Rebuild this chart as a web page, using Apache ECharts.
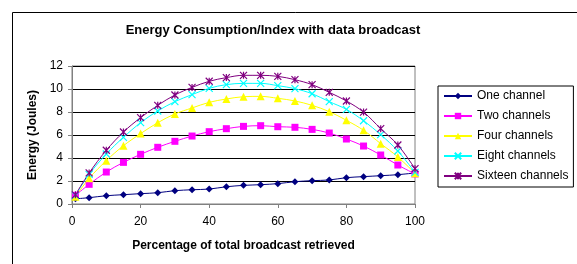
<!DOCTYPE html>
<html>
<head>
    <meta charset="utf-8">
    <title>ECharts</title>
    <script src="https://cdn.jsdelivr.net/npm/echarts@6/dist/echarts.min.js"></script>
    <style>
        body { margin: 0; background: #fff; }
    </style>
</head>
<body>
<div id="main" style="width: 577px;height:264px;"></div>
<script type="text/javascript">
    // percentage of broadcast retrieved
    var xValues = [1, 5, 10, 15, 20, 25, 30, 35, 40, 45, 50, 55, 60, 65, 70, 75, 80, 85, 90, 95, 100];

    var seriesNames = ['One channel', 'Two channels', 'Four channels', 'Eight channels', 'Sixteen channels'];

    var oneChannel     = [0.45, 0.55, 0.72, 0.81, 0.9, 0.98, 1.16, 1.24, 1.3, 1.5, 1.62, 1.68, 1.77, 1.94, 2.03, 2.09, 2.29, 2.38, 2.46, 2.55, 2.7];
    var twoChannels    = [0.75, 1.71, 2.78, 3.62, 4.32, 4.93, 5.45, 5.91, 6.29, 6.55, 6.75, 6.81, 6.72, 6.67, 6.49, 6.17, 5.65, 5.04, 4.26, 3.39, 2.61];
    var fourChannels   = [0.64, 2.23, 3.77, 5.07, 6.12, 7.07, 7.83, 8.35, 8.84, 9.13, 9.33, 9.36, 9.19, 8.96, 8.58, 8.03, 7.28, 6.41, 5.25, 4.09, 2.67];
    var eightChannels  = [0.75, 2.58, 4.35, 5.8, 7.07, 8.09, 8.9, 9.51, 10.06, 10.38, 10.49, 10.49, 10.29, 10.03, 9.59, 8.9, 8.23, 7.24, 6.03, 4.61, 2.75];
    var sixteenChannels = [0.8, 2.7, 4.67, 6.26, 7.51, 8.58, 9.48, 10.14, 10.67, 10.99, 11.19, 11.19, 11.1, 10.81, 10.38, 9.71, 8.96, 7.99, 6.55, 5.13, 3.07];

    var yTicks = [0, 2, 4, 6, 8, 10, 12];
    var xTicks = [0, 20, 40, 60, 80, 100];

    var crossPath = 'path://M0 0L10 10M10 0L0 10';
    var starPath = 'path://M0 0L10 10M10 0L0 10M5 0L5 10';

    function pairs(ys) {
        var out = [];
        for (var i = 0; i < xValues.length; i++) {
            out.push([xValues[i], ys[i]]);
        }
        return out;
    }

    function makeSeries(name, ys, color, symbol, size, stroked) {
        return {
            name: name,
            type: 'line',
            data: pairs(ys),
            smooth: 0.35,
            symbol: symbol,
            symbolSize: size,
            showAllSymbol: true,
            lineStyle: { color: color, width: 1 },
            itemStyle: stroked
                ? { color: 'rgba(0,0,0,0)', borderColor: color, borderWidth: 1.2 }
                : { color: color, borderColor: color, borderWidth: 0 },
            emphasis: { disabled: true }
        };
    }

    var myChart = echarts.init(document.getElementById('main'));

    var option = {
        animation: false,
        backgroundColor: '#fff',
        textStyle: { fontFamily: 'Liberation Sans, Arial, sans-serif' },
        title: {
            text: 'Energy Consumption/Index with data broadcast',
            left: 268,
            textAlign: 'center',
            top: 19,
            textStyle: { fontSize: 13, fontWeight: 'bold', color: '#000' }
        },
        graphic: [{
            type: 'rect',
            position: [0, 0],
            shape: { x: 12.5, y: 12.5, width: 620, height: 300 },
            style: { fill: 'none', stroke: '#000', lineWidth: 1 },
            z: -10
        }],
        legend: {
            orient: 'vertical',
            left: 438,
            top: 86,
            padding: [3, 5, 4, 5],
            itemGap: 6,
            itemWidth: 28,
            itemHeight: 8,
            borderColor: '#000',
            borderWidth: 1,
            backgroundColor: '#fff',
            textStyle: { fontSize: 12, color: '#000', lineHeight: 14, fontFamily: 'Liberation Sans, Arial, sans-serif' },
            data: seriesNames
        },
        grid: {
            left: 72,
            right: 162,
            top: 66,
            bottom: 60,
            show: true,
            borderColor: '#808080',
            borderWidth: 1,
            containLabel: false
        },
        xAxis: {
            type: 'value',
            min: xTicks[0],
            max: xTicks[xTicks.length - 1],
            interval: 20,
            name: 'Percentage of total broadcast retrieved',
            nameLocation: 'middle',
            nameGap: 36,
            nameTextStyle: { fontSize: 12, fontWeight: 'bold', color: '#000' },
            axisLine: { lineStyle: { color: '#808080' } },
            axisTick: { inside: false, length: 4, lineStyle: { color: '#808080' } },
            axisLabel: { fontSize: 12, color: '#000', margin: 12 },
            splitLine: { show: false }
        },
        yAxis: {
            type: 'value',
            min: yTicks[0],
            max: yTicks[yTicks.length - 1],
            interval: 2,
            name: 'Energy (Joules)',
            nameLocation: 'middle',
            nameRotate: 90,
            nameGap: 29,
            nameTextStyle: { fontSize: 12, fontWeight: 'bold', color: '#000' },
            axisLine: { show: true, lineStyle: { color: '#808080' } },
            axisTick: { show: true, inside: false, length: 4, lineStyle: { color: '#808080' } },
            axisLabel: { fontSize: 12, color: '#000', margin: 9 },
            splitLine: { show: true, lineStyle: { color: '#000', width: 1 } }
        },
        series: [
            makeSeries(seriesNames[0], oneChannel, '#000080', 'diamond', 7, false),
            makeSeries(seriesNames[1], twoChannels, '#FF00FF', 'rect', 7, false),
            makeSeries(seriesNames[2], fourChannels, '#FFFF00', 'triangle', 8, false),
            makeSeries(seriesNames[3], eightChannels, '#00FFFF', crossPath, 7, true),
            makeSeries(seriesNames[4], sixteenChannels, '#800080', starPath, 7, true)
        ]
    };

    myChart.setOption(option);
</script>
</body>
</html>
